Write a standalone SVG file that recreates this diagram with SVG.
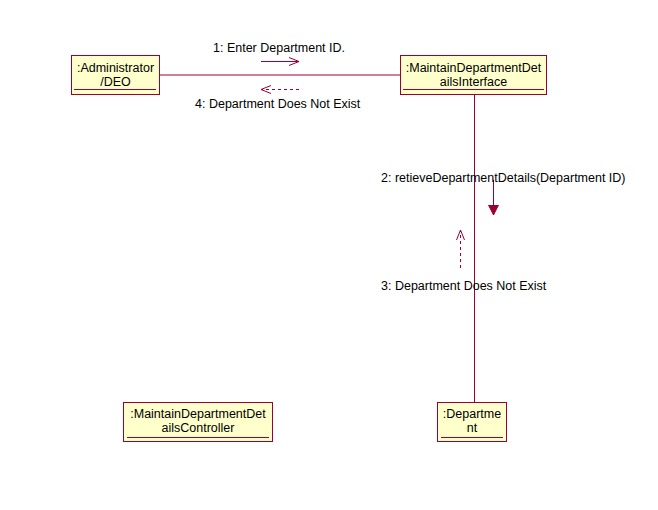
<svg xmlns="http://www.w3.org/2000/svg" width="658" height="510" viewBox="0 0 658 510">
<style>
.box{fill:#FFFFCC;stroke:#990033;stroke-width:1}
.ul{stroke:#990033;stroke-width:1}
.ln{stroke:#990033;stroke-width:1;fill:none}
.dash{stroke:#990033;stroke-width:1;fill:none;stroke-dasharray:3,3}
text{font-family:"Liberation Sans",Arial,sans-serif;font-size:12.5px;fill:#000}
.c{text-anchor:middle}
</style>
<defs>
<marker id="open" markerWidth="12" markerHeight="10" refX="11" refY="5" orient="auto" markerUnits="userSpaceOnUse">
<path d="M1,1 L11,5 L1,9" fill="none" stroke="#990033" stroke-width="1"/>
</marker>
<marker id="filled" markerWidth="12" markerHeight="12" refX="10" refY="5" orient="auto" markerUnits="userSpaceOnUse">
<path d="M0,0 L10,5 L0,10 Z" fill="#990033" stroke="#990033"/>
</marker>
</defs>
<rect width="658" height="510" fill="#fff"/>
<g id="connectors">
<line class="ln" x1="159" y1="75" x2="400" y2="75"/>
<line class="ln" x1="474.5" y1="94" x2="474.5" y2="402"/>
<line class="ln" x1="261" y1="61.5" x2="299" y2="61.5" marker-end="url(#open)"/>
<text x="213" y="52">1: Enter Department ID.</text>
<line class="dash" x1="299" y1="89.5" x2="261" y2="89.5" marker-end="url(#open)"/>
<text x="195" y="108">4: Department Does Not Exist</text>
<line class="ln" x1="493.5" y1="180" x2="493.5" y2="215" marker-end="url(#filled)"/>
<text x="381" y="182">2: retieveDepartmentDetails(Department ID)</text>
<line class="dash" x1="460.5" y1="268" x2="460.5" y2="230" marker-end="url(#open)"/>
<text x="381" y="290">3: Department Does Not Exist</text>
</g>
<g id="administrator">
<rect class="box" x="71.5" y="55.5" width="88" height="39"/>
<text class="c" x="115.5" y="72">:Administrator</text>
<text class="c" x="115.5" y="86">/DEO</text>
<line class="ul" x1="74" y1="89.5" x2="156" y2="89.5"/>
</g>
<g id="interface">
<rect class="box" x="400.5" y="55.5" width="146" height="39"/>
<text class="c" x="473.5" y="72">:MaintainDepartmentDet</text>
<text class="c" x="473.5" y="86">ailsInterface</text>
<line class="ul" x1="403" y1="89.5" x2="544" y2="89.5"/>
</g>
<g id="controller">
<rect class="box" x="123.5" y="402.5" width="149" height="39"/>
<text class="c" x="198" y="418">:MaintainDepartmentDet</text>
<text class="c" x="198" y="432">ailsController</text>
<line class="ul" x1="127" y1="437.5" x2="269" y2="437.5"/>
</g>
<g id="department">
<rect class="box" x="437.5" y="402.5" width="69" height="39"/>
<text class="c" x="472" y="418">:Departme</text>
<text class="c" x="472" y="432">nt</text>
<line class="ul" x1="441" y1="437.5" x2="503" y2="437.5"/>
</g>
</svg>
